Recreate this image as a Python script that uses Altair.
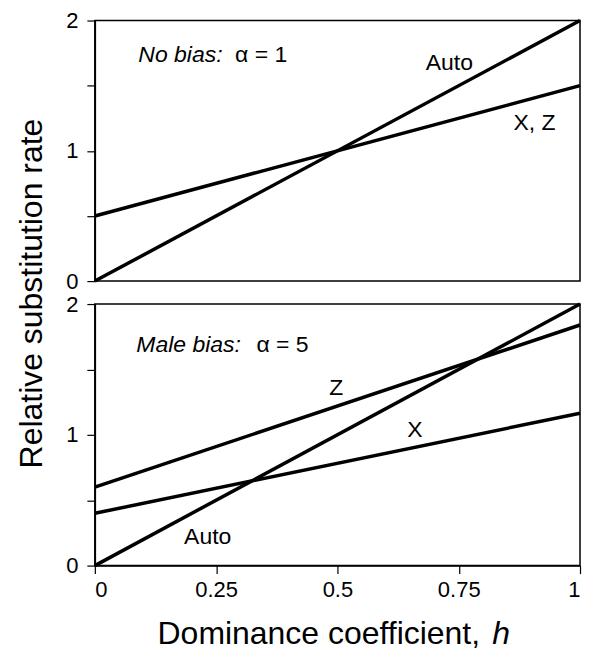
import altair as alt
import pandas as pd

FONT = "Liberation Sans"

# ---- data ----
h_values = [0.0, 1.0]
top_auto = [0.0, 2.0]
top_xz = [0.5, 1.5]
bottom_auto = [0.0, 2.0]
bottom_z = [0.6, 1.84]
bottom_x = [0.4, 1.165]

x_ticks = [0, 0.25, 0.5, 0.75, 1]
y_ticks = [0, 0.5, 1, 1.5, 2]

top_label_text = ["Auto", "X, Z", "α = 1"]
top_label_h = [0.682, 0.863, 0.289]
top_label_rate = [1.617, 1.156, 1.678]
top_italic_text = ["No bias:"]
top_italic_h = [0.0896]
top_italic_rate = [1.678]

bottom_label_text = ["Z", "X", "Auto", "α = 5"]
bottom_label_h = [0.483, 0.644, 0.184, 0.333]
bottom_label_rate = [1.305, 0.987, 0.168, 1.634]
bottom_italic_text = ["Male bias:"]
bottom_italic_h = [0.0855]
bottom_italic_rate = [1.634]

x_title_main = "Dominance coefficient,"
x_title_var = "h"
X_TITLE_RATE = -0.6


def lines_df(series):
    rows = []
    for name, vals in series.items():
        for h, v in zip(h_values, vals):
            rows.append({"series": name, "h": h, "rate": v})
    return pd.DataFrame(rows)


top_df = lines_df({"Auto": top_auto, "X, Z": top_xz})
bottom_df = lines_df({"Auto": bottom_auto, "Z": bottom_z, "X": bottom_x})

W = 486
H_TOP = 261
H_BOT = 262

xscale = alt.Scale(domain=[0, 1], nice=False, zero=False)
yscale = alt.Scale(domain=[0, 2], nice=False)

label_expr = "datum.value % 1 == 0 ? format(datum.value, 'd') : ''"


def y_axis(title):
    kw = dict(values=y_ticks, labelExpr=label_expr, tickSize=8, labelPadding=9,
              labelFontSize=22, grid=False)
    if title:
        kw.update(title=title, titleFontSize=32, titleFontWeight="normal",
                  titleY=(H_TOP + 23 + H_BOT) / 2, titlePadding=17)
    else:
        kw.update(title=None)
    return alt.Axis(**kw)


def line_layer(df, xaxis, yaxis):
    return alt.Chart(df).mark_line(color="black", strokeWidth=3.5).encode(
        x=alt.X("h:Q", scale=xscale, axis=xaxis),
        y=alt.Y("rate:Q", scale=yscale, axis=yaxis),
        detail="series:N",
    )


def text_layer(texts, hs, rates, italic=False, size=23, align="left"):
    df = pd.DataFrame({"text": texts, "h": hs, "rate": rates})
    return alt.Chart(df).mark_text(
        align=align, baseline="alphabetic", fontSize=size, font=FONT,
        fontStyle="italic" if italic else "normal", color="black",
    ).encode(
        x=alt.X("h:Q", scale=xscale),
        y=alt.Y("rate:Q", scale=yscale),
        text="text:N",
    )


top = alt.layer(
    line_layer(top_df, None, y_axis("Relative substitution rate")),
    text_layer(top_label_text, top_label_h, top_label_rate),
    text_layer(top_italic_text, top_italic_h, top_italic_rate, italic=True),
).properties(width=W, height=H_TOP)

x_axis = alt.Axis(values=x_ticks, labelExpr="format(datum.value, '.2~f')",
                  tickSize=8, labelPadding=6, labelFontSize=22, title=None, grid=False)

bottom = alt.layer(
    line_layer(bottom_df, x_axis, y_axis(None)),
    text_layer(bottom_label_text, bottom_label_h, bottom_label_rate),
    text_layer(bottom_italic_text, bottom_italic_h, bottom_italic_rate, italic=True),
    text_layer([x_title_main], [0.794], [X_TITLE_RATE], size=32, align="right"),
    text_layer([x_title_var], [0.819], [X_TITLE_RATE], size=32, italic=True),
).properties(width=W, height=H_BOT)

chart = alt.vconcat(top, bottom, spacing=23, bounds="flush").properties(
    padding={"left": 7, "top": 0, "right": 0, "bottom": 0}
).configure_axis(
    domainColor="black", domainWidth=1.5, tickColor="black", tickWidth=1.2,
    labelColor="black", titleColor="black", labelFont=FONT, titleFont=FONT,
).configure_view(stroke="black", strokeWidth=1.5)

chart.save("out.html", embed_options={"renderer": "svg", "actions": False})
